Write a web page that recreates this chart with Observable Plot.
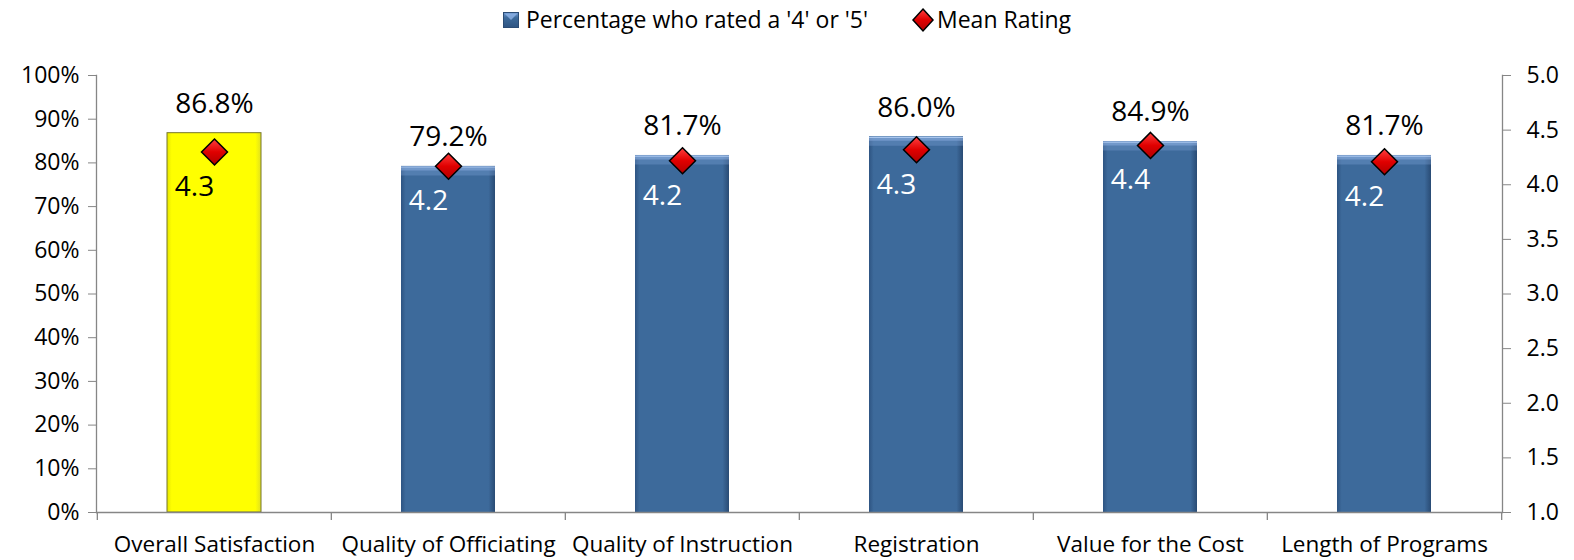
<!DOCTYPE html>
<html>
<head>
<meta charset="utf-8">
<script src="https://cdn.jsdelivr.net/npm/d3@7"></script>
<script src="https://cdn.jsdelivr.net/npm/@observablehq/plot@0.6"></script>
<style>
  html, body { margin: 0; padding: 0; background: #fff; }
  body { width: 1574px; height: 560px; overflow: hidden; font-family: "Open Sans", sans-serif; color: #000; }
  #legend { position: relative; height: 45px; width: 1574px; }
  #legend .row { position: absolute; top: 8px; left: 0; right: 0; display: flex; justify-content: center; align-items: flex-start; font-size: 23px; line-height: 23px; }
  #legend .item { display: flex; align-items: flex-start; }
  #legend svg { display: block; }
  #chart svg { display: block; }
</style>
</head>
<body>
<svg width="0" height="0" style="position:absolute">
  <defs>
    <linearGradient id="blueBar" x1="0" y1="0" x2="1" y2="0">
      <stop offset="0" stop-color="#2E5482"/>
      <stop offset="0.05" stop-color="#3D6A9B"/>
      <stop offset="0.93" stop-color="#3D6A9B"/>
      <stop offset="1" stop-color="#294B74"/>
    </linearGradient>
    <linearGradient id="yellowBar" x1="0" y1="0" x2="1" y2="0">
      <stop offset="0" stop-color="#E6E600"/>
      <stop offset="0.05" stop-color="#FFFF00"/>
      <stop offset="0.94" stop-color="#FFFF00"/>
      <stop offset="1" stop-color="#E0E020"/>
    </linearGradient>
    <linearGradient id="redDiamond" x1="0" y1="0" x2="0" y2="1">
      <stop offset="0" stop-color="#FF4040"/>
      <stop offset="0.5" stop-color="#E00000"/>
      <stop offset="1" stop-color="#B00000"/>
    </linearGradient>
    <linearGradient id="legendSquare" x1="0" y1="0" x2="0" y2="1">
      <stop offset="0" stop-color="#6F98D0"/>
      <stop offset="0.35" stop-color="#3D6A9B"/>
      <stop offset="1" stop-color="#2E5482"/>
    </linearGradient>
  </defs>
</svg>
<div id="legend">
  <div class="row">
    <div class="item">
      <svg width="16" height="23" style="margin-top:-1px;margin-right:7px"><rect x="0.5" y="5.5" width="15" height="15" fill="url(#legendSquare)" stroke="#2B4C75" stroke-width="1"/><path d="M1.5,6.5 L14.5,6.5 L8,13 Z" fill="#8FB3E6" opacity="0.8"/></svg>
      <span id="lg1"></span>
    </div>
    <div class="item" style="margin-left:43px">
      <svg width="24" height="26" style="margin-top:-1px;margin-right:2px"><path d="M12,2 L22,13 L12,24 L2,13 Z" fill="url(#redDiamond)" stroke="#000" stroke-width="1.5"/></svg>
      <span id="lg2"></span>
    </div>
  </div>
</div>
<div id="chart"></div>
<script>
// ---- data ----
const categories = ["Overall Satisfaction", "Quality of Officiating", "Quality of Instruction", "Registration", "Value for the Cost", "Length of Programs"];
const pctRated45 = [0.868, 0.792, 0.817, 0.860, 0.849, 0.817];
const meanRating = [4.30, 4.17, 4.22, 4.32, 4.36, 4.21];
const leftTicks = [0, 0.1, 0.2, 0.3, 0.4, 0.5, 0.6, 0.7, 0.8, 0.9, 1.0];
const rightTicks = [1.0, 1.5, 2.0, 2.5, 3.0, 3.5, 4.0, 4.5, 5.0];
const seriesNames = ["Percentage who rated a '4' or '5'", "Mean Rating"];
const highlight = "Overall Satisfaction";
const ratingMin = 1, ratingMax = 5;

document.getElementById("lg1").textContent = seriesNames[0];
document.getElementById("lg2").textContent = seriesNames[1];

const data = categories.map((name, i) => ({name, pct: pctRated45[i], mean: meanRating[i]}));
const toY = (r) => (r - ratingMin) / (ratingMax - ratingMin);

const W = 1574, H = 515, ML = 96, MR = 72, MT = 30, MB = 48;
const step = (W - ML - MR) / categories.length;
const gray = "#868686";
const hi = data.filter(d => d.name === highlight);
const rest = data.filter(d => d.name !== highlight);

const chart = Plot.plot({
  width: W, height: H,
  marginLeft: ML, marginRight: MR, marginTop: MT, marginBottom: MB,
  style: {fontFamily: "'Open Sans', sans-serif", color: "#000", background: "#fff"},
  x: {type: "band", domain: categories, paddingInner: 0.6, paddingOuter: 0.3, align: 0.5},
  y: {domain: [0, 1]},
  marks: [
    Plot.barY(hi, {x: "name", y: "pct", fill: "url(#yellowBar)", stroke: "#77772E", strokeWidth: 1}),
    Plot.barY(rest, {x: "name", y: "pct", fill: "url(#blueBar)"}),
    Plot.tickY(rest, {x: "name", y: "pct", stroke: "#7EA3D8", strokeOpacity: 0.35, strokeWidth: 9, dy: 4.5}),
    Plot.tickY(rest, {x: "name", y: "pct", stroke: "#8FB2E4", strokeOpacity: 0.5, strokeWidth: 4, dy: 2}),
    Plot.tickY(rest, {x: "name", y: "pct", stroke: "#A9C6EE", strokeWidth: 1.2, dy: 0.6}),
    Plot.ruleY([0], {stroke: gray, strokeWidth: 1.3}),
    Plot.frame({anchor: "left", stroke: gray, strokeWidth: 1.3}),
    Plot.frame({anchor: "right", stroke: gray, strokeWidth: 1.3}),
    Plot.ruleX(categories, {x: d => d, y1: 0, y2: 0, insetBottom: -8, dx: -step / 2, stroke: gray, strokeWidth: 1.3}),
    Plot.ruleX([categories[categories.length - 1]], {x: d => d, y1: 0, y2: 0, insetBottom: -8, dx: step / 2, stroke: gray, strokeWidth: 1.3}),
    Plot.axisY({ticks: leftTicks, tickFormat: d3.format(".0%"), tickSize: 8, tickPadding: 9, fontSize: 23, stroke: gray, fill: "#000", label: null}),
    Plot.axisY({anchor: "right", ticks: rightTicks.map(toY), tickFormat: d => (ratingMin + d * (ratingMax - ratingMin)).toFixed(1), tickSize: 8, tickPadding: 16, fontSize: 23, stroke: gray, fill: "#000", label: null}),
    Plot.axisX({tickSize: 0, tickPadding: 24, fontSize: 22.5, fill: "#000", label: null}),
    Plot.text(data, {x: "name", y: "pct", text: d => (d.pct * 100).toFixed(1) + "%", dy: -20, lineAnchor: "bottom", fontSize: 28, fill: "#000"}),
    Plot.dot(data, {x: "name", y: d => toY(d.mean), symbol: "diamond2", r: 11.7, fill: "url(#redDiamond)", stroke: "#000", strokeWidth: 1.5}),
    Plot.text(hi, {x: "name", y: d => toY(d.mean), text: d => d.mean.toFixed(1), dx: -20, dy: 44, lineAnchor: "bottom", fontSize: 28, fill: "#000"}),
    Plot.text(rest, {x: "name", y: d => toY(d.mean), text: d => d.mean.toFixed(1), dx: -20, dy: 44, lineAnchor: "bottom", fontSize: 28, fill: "#fff"})
  ]
});
document.getElementById("chart").appendChild(chart);
</script>
</body>
</html>
